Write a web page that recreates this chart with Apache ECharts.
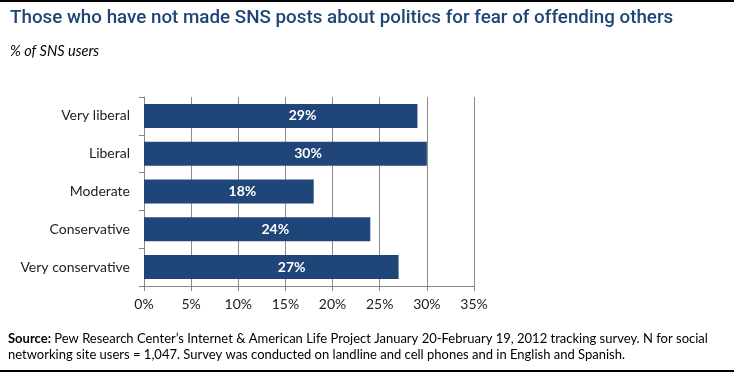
<!DOCTYPE html>
<html><head><meta charset="utf-8">
<script src="https://cdn.jsdelivr.net/npm/echarts@6/dist/echarts.min.js"></script>
<style>html,body{margin:0;padding:0;background:#fff}#c{width:734px;height:374px}</style>
</head><body><div id="c"></div>
<script>
const categories = ['Very liberal','Liberal','Moderate','Conservative','Very conservative'];
const values = [29, 30, 18, 24, 27];
const tickLabels = ['0%','5%','10%','15%','20%','25%','30%','35%'];
const titleText = 'Those who have not made SNS posts about politics for fear of offending others';
const subtitleText = '% of SNS users';
const sourceLine1 = 'Pew Research Center\u2019s Internet & American Life Project January 20-February 19, 2012 tracking survey. N for social';
const sourceLine2 = 'networking site users = 1,047. Survey was conducted on landline and cell phones and in English and Spanish.';

const body = 'Lato';
const chart = echarts.init(document.getElementById('c'), null, {renderer:'canvas'});
chart.setOption({
  animation:false,
  backgroundColor:'#fff',
  grid:{left:144, right:260, top:97, bottom:88, containLabel:false},
  xAxis:{type:'value', min:0, max:35, interval:5,
    axisLine:{show:true, lineStyle:{color:'#868686'}},
    axisTick:{show:true, length:5, lineStyle:{color:'#868686'}},
    splitLine:{show:true, lineStyle:{color:'#8c8c8c', width:1}},
    axisLabel:{margin:11, fontFamily:body, fontSize:14, color:'#222',
      formatter:function(v){return tickLabels[Math.round(v/5)];}}
  },
  yAxis:{type:'category', data:categories, inverse:true,
    axisLine:{show:true, lineStyle:{color:'#868686'}},
    axisTick:{show:true, length:5, lineStyle:{color:'#868686'}},
    axisLabel:{margin:14, fontFamily:body, fontSize:14, color:'#222'}
  },
  series:[{type:'bar', data:values, barWidth:24, itemStyle:{color:'#1F4579'},
    label:{show:true, position:['58%','50%'], align:'center', verticalAlign:'middle',
      formatter:'{c}%', color:'#fff', fontWeight:'bold', fontFamily:body, fontSize:14}
  }],
  graphic:[
    {type:'rect', shape:{x:0,y:0,width:734,height:2}, style:{fill:'#000'}},
    {type:'rect', shape:{x:0,y:370,width:734,height:2}, style:{fill:'#000'}},
    {type:'text', x:10, y:9, style:{text:titleText, fontFamily:'Roboto', fontWeight:500, fontSize:18.8, fill:'#1F4476'}},
    {type:'text', x:10, y:44, style:{text:subtitleText, fontFamily:body, fontStyle:'italic', fontSize:14.5, fill:'#000'}},
    {type:'text', x:8, y:331, style:{text:'{b|Source:} '+sourceLine1+'\n'+sourceLine2,
      rich:{b:{fontWeight:'bold', fontFamily:body, fontSize:13, lineHeight:16, fill:'#000'}},
      fontFamily:body, fontSize:13, lineHeight:16, fill:'#000'}}
  ]
});
</script></body></html>
